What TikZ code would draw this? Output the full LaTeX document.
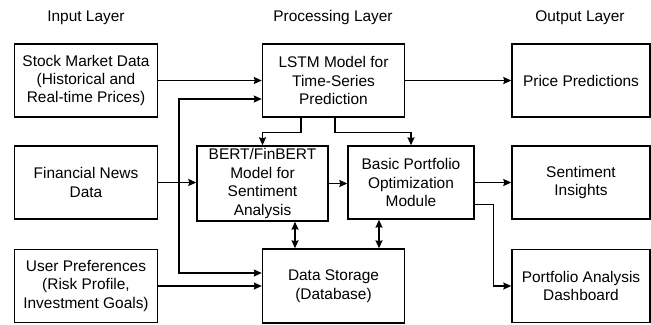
\documentclass[tikz,border=0pt]{standalone}
\usepackage{fontspec}
\setmainfont{Liberation Sans}
\usetikzlibrary{arrows.meta,positioning}

\begin{document}
\begin{tikzpicture}[x=1bp, y=-1bp,
                    block/.style = {draw, line width = 1.4bp, align = center, inner sep = 2bp,
                                    minimum width = 143bp, minimum height = 73bp,
                                    font = \fontsize{15.5}{18.5}\selectfont},
                    layer/.style = {font = \fontsize{15.5}{18.5}\selectfont},
                    link/.style = {line width = 1.4bp, -{Stealth[length = 8bp, width = 7bp, inset = 1bp]}},
                    both/.style = {line width = 1.4bp, {Stealth[length = 8bp, width = 7bp, inset = 1bp]}-{Stealth[length = 8bp, width = 7bp, inset = 1bp]}}]
    \useasboundingbox (0,0) rectangle (651,324);
    % layer titles
    \node[layer] (t_in) at (86,18) {Input Layer};
    \node[layer] (t_proc) at (333,18) {Processing Layer};
    \node[layer] (t_out) at (580,18) {Output Layer};
    % input blocks
    \node[block] (stock) at (86,80.5) {Stock Market Data\\(Historical and\\Real-time Prices)};
    \node[block] (news) at (86,182.5) {Financial News\\Data};
    \node[block] (prefs) at (86,286) {User Preferences\\(Risk Profile,\\Investment Goals)};
    % processing blocks
    \node[block, minimum width = 142bp] (lstm) at (333.5,80.5) {LSTM Model for\\Time-Series\\Prediction};
    \node[block, minimum width = 131bp, minimum height = 75bp] (bert) at (262.5,183.5) {BERT/FinBERT\\Model for\\Sentiment\\Analysis};
    \node[block, minimum width = 126bp] (bpo) at (411,182.5) {Basic Portfolio\\Optimization\\Module};
    \node[block, minimum width = 142bp, minimum height = 74bp] (store) at (333.5,286) {Data Storage\\(Database)};
    % output blocks
    \node[block, minimum width = 138bp] (price) at (581,80.5) {Price Predictions};
    \node[block, minimum width = 138bp] (senti) at (581,182.5) {Sentiment\\Insights};
    \node[block, minimum width = 138bp] (dash) at (581,286) {Portfolio Analysis\\Dashboard};
    % inputs into processing
    \draw[link] (stock.east) -- (stock.east -| lstm.west);
    \draw[link] (news.east) -- (news.east -| bert.west);
    \draw[link] (prefs.east) -- (prefs.east -| store.west);
    \coordinate (tap) at (179,183);
    \draw[link] (tap) |- ([yshift=-18.5bp]lstm.west);
    \draw[link] (tap) |- ([yshift=13bp]store.west);
    % lstm feeds both models
    \draw[link] ([xshift=-32.5bp]lstm.south) -- ++(0,15) -| (bert.north);
    \draw[link] ([xshift=1.5bp]lstm.south) -- ++(0,15) -| (bpo.north);
    \draw[link] (bert.east) -- (bert.east -| bpo.west);
    % storage exchange
    \draw[both] ([xshift=32.5bp]bert.south) -- ([xshift=32.5bp]bert.south |- store.north);
    \draw[both] ([xshift=-32bp]bpo.south) -- ([xshift=-32bp]bpo.south |- store.north);
    % outputs
    \draw[link] (lstm.east) -- (price.west);
    \draw[link] (bpo.east) -- (senti.west);
    \draw[link] ([yshift=-22bp]bpo.east) -- ++(19,0) |- (dash.west);
\end{tikzpicture}
\end{document}
